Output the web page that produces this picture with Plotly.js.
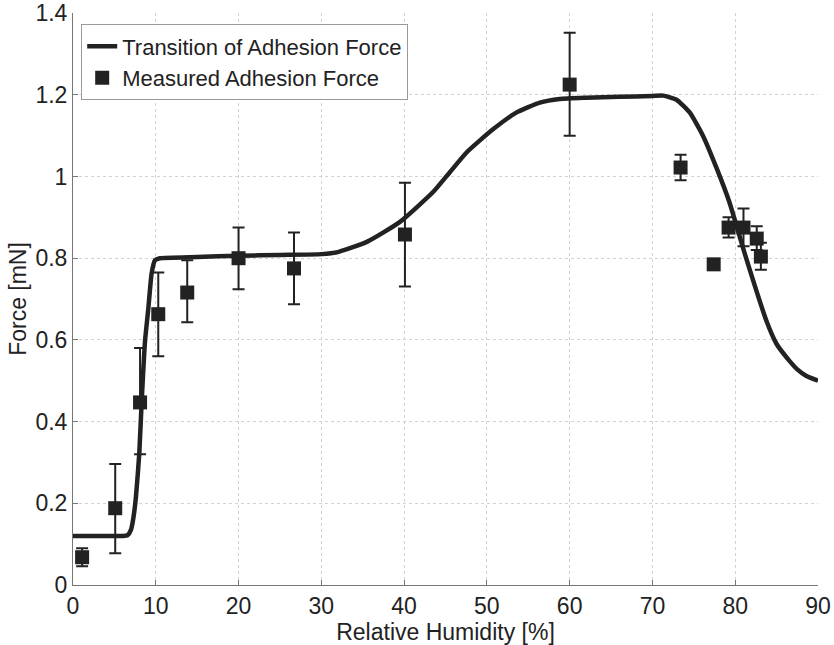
<!DOCTYPE html>
<html>
<head>
<meta charset="utf-8">
<script src="https://cdn.plot.ly/plotly-3.0.1.min.js"></script>
<style>html,body{margin:0;padding:0;background:#fff;}#chart{width:834px;height:645px;}</style>
</head>
<body>
<div id="chart"></div>
<script>
// Transition curve (Relative Humidity %, Force mN)
const curveX = [0, 3, 6.0, 6.6, 7.0, 7.3, 7.6, 8.0, 8.3, 8.7, 9.1, 9.5, 9.9, 10.5, 15, 20, 25, 30, 32, 35.5, 39.5, 43.5, 45.5, 47.6, 50.7, 53.6, 56.4, 58.8, 62, 66, 70, 71.3, 72.9, 74.5, 76.1, 77.8, 79.3, 81.2, 83.8, 85, 86.5, 87.5, 88.5, 90];
const curveY = [0.12, 0.12, 0.12, 0.122, 0.135, 0.165, 0.215, 0.32, 0.45, 0.597, 0.677, 0.763, 0.795, 0.80, 0.803, 0.806, 0.808, 0.81, 0.815, 0.84, 0.889, 0.962, 1.01, 1.06, 1.115, 1.157, 1.181, 1.19, 1.193, 1.195, 1.197, 1.198, 1.188, 1.157, 1.10, 1.018, 0.937, 0.808, 0.645, 0.59, 0.55, 0.528, 0.513, 0.50];

// Measured adhesion force
const measX = [1.1, 5.1, 8.1, 10.3, 13.8, 20.0, 26.7, 40.1, 60.0, 73.4, 77.4, 79.2, 81.0, 82.6, 83.1];
const measY = [0.068, 0.188, 0.447, 0.663, 0.716, 0.80, 0.775, 0.858, 1.225, 1.022, 0.785, 0.875, 0.875, 0.848, 0.804];
const measUpper = [0.09, 0.296, 0.58, 0.765, 0.795, 0.875, 0.863, 0.985, 1.352, 1.053, 0.785, 0.90, 0.922, 0.878, 0.838];
const measLower = [0.046, 0.078, 0.32, 0.56, 0.643, 0.724, 0.687, 0.731, 1.10, 0.991, 0.785, 0.851, 0.829, 0.82, 0.772];

const errPlus = measUpper.map((u, i) => u - measY[i]);
const errMinus = measLower.map((l, i) => measY[i] - l);

const ink = '#222222';
const font = {family: 'Liberation Sans, Arial, sans-serif', size: 23, color: ink};
const legendFont = {family: 'Liberation Sans, Arial, sans-serif', size: 22, color: ink};

const traces = [
  {
    x: curveX, y: curveY, type: 'scatter', mode: 'lines',
    name: 'Transition of Adhesion Force',
    line: {color: ink, width: 4.5, shape: 'spline', smoothing: 0.5}
  },
  {
    x: measX, y: measY, type: 'scatter', mode: 'markers',
    name: 'Measured Adhesion Force',
    marker: {symbol: 'square', size: 14, color: ink},
    error_y: {type: 'data', symmetric: false, array: errPlus, arrayminus: errMinus,
              color: ink, thickness: 2, width: 6}
  }
];

const axisCommon = {
  showgrid: true, gridcolor: '#d2d2d2', griddash: 'dot', gridwidth: 1,
  zeroline: false, showline: true, linecolor: '#777', linewidth: 1,
  ticks: 'inside', ticklen: 5, tickcolor: '#777', tickfont: font, mirror: false,
  ticklabeloverflow: 'allow'
};

const layout = {
  width: 834, height: 645,
  margin: {l: 73, r: 16, t: 13, b: 60},
  paper_bgcolor: '#fff', plot_bgcolor: '#fff',
  font: font,
  showlegend: true,
  legend: {x: 0.011, y: 0.98, xanchor: 'left', yanchor: 'top',
           bgcolor: '#fff', bordercolor: '#999', borderwidth: 1,
           font: legendFont, tracegroupgap: 0, itemwidth: 30},
  xaxis: Object.assign({}, axisCommon, {
    range: [0, 90.001], tickvals: [0,10,20,30,40,50,60,70,80,90],
    title: {text: 'Relative Humidity [%]', font: font, standoff: 0}
  }),
  yaxis: Object.assign({}, axisCommon, {
    range: [0, 1.4003], tickvals: [0,0.2,0.4,0.6,0.8,1,1.2,1.4],
    ticktext: ['0','0.2','0.4','0.6','0.8','1','1.2','1.4'],
    title: {text: 'Force [mN]', font: font, standoff: 2}
  })
};

Plotly.newPlot('chart', traces, layout, {staticPlot: true, displayModeBar: false});
</script>
</body>
</html>
